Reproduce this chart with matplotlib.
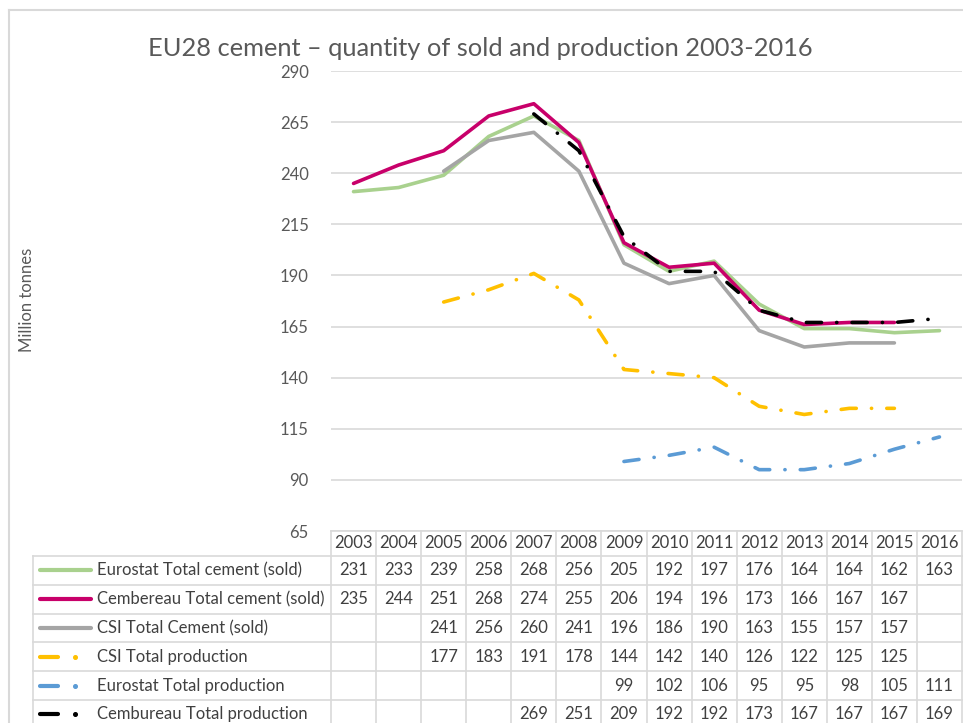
import numpy as np
import matplotlib.pyplot as plt
from matplotlib.lines import Line2D

nan = np.nan

# years and series (million tonnes)
years = [2003, 2004, 2005, 2006, 2007, 2008, 2009, 2010, 2011, 2012, 2013, 2014, 2015, 2016]
eurostat_sold = [231, 233, 239, 258, 268, 256, 205, 192, 197, 176, 164, 164, 162, 163]
cembureau_sold = [235, 244, 251, 268, 274, 255, 206, 194, 196, 173, 166, 167, 167, nan]
csi_sold = [nan, nan, 241, 256, 260, 241, 196, 186, 190, 163, 155, 157, 157, nan]
csi_prod = [nan, nan, 177, 183, 191, 178, 144, 142, 140, 126, 122, 125, 125, nan]
eurostat_prod = [nan, nan, nan, nan, nan, nan, 99, 102, 106, 95, 95, 98, 105, 111]
cembureau_prod = [nan, nan, nan, nan, 269, 251, 209, 192, 192, 173, 167, 167, 167, 169]

series_names = ['Eurostat Total cement (sold)', 'Cembereau Total cement (sold)',
                'CSI Total Cement (sold)', 'CSI Total production',
                'Eurostat Total production', 'Cembureau Total production']
series_vals = [eurostat_sold, cembureau_sold, csi_sold, csi_prod, eurostat_prod, cembureau_prod]
colors = ['#A9D18E', '#C8006A', '#A5A5A5', '#FFC000', '#5B9BD5', '#000000']
dashed = [False, False, False, True, True, True]

yticks = list(range(65, 291, 25))

plt.rcParams['font.family'] = ['Lato', 'DejaVu Sans']
W, H = 963, 723
fig = plt.figure(figsize=(W / 100, H / 100), dpi=100)

# pixel helpers
def fx(px):
    return px / W

def fy(py):
    return 1 - py / H

left, right, top, bottom = 331, 962, 71, 531
ax = fig.add_axes([fx(left), fy(bottom), fx(right) - fx(left), fy(top) - fy(bottom)])

dash_style = (0, (4.2, 4.2, 0.05, 4.2))
x = np.arange(len(years))
for vals, c, d in zip(series_vals, colors, dashed):
    y = np.array(vals, dtype=float)
    if d:
        ax.plot(x, y, color=c, lw=2.6, linestyle=dash_style, dash_capstyle='round',
                solid_capstyle='round')
    else:
        ax.plot(x, y, color=c, lw=2.6, solid_capstyle='round', solid_joinstyle='round')

ax.set_xlim(-0.5, len(years) - 0.5)
ax.set_ylim(65, 290)
ax.set_yticks(yticks)
ax.set_xticks([])
ax.grid(axis='y', color='#D9D9D9', lw=1.2)
ax.set_axisbelow(True)
for s in ax.spines.values():
    s.set_visible(False)
ax.tick_params(axis='y', length=0, pad=16, labelsize=12, labelcolor='#595959')

# title and axis label
fig.text(fx(480), fy(48), 'EU28 cement \u2013 quantity of sold and production 2003-2016',
         ha='center', va='center', fontsize=18.3, color='#595959')
fig.text(fx(27), fy(300), 'Million tonnes', rotation=90, ha='center', va='center',
         fontsize=12, color='#595959')

# outer chart border
fig.add_artist(Line2D([fx(9), fx(9)], [fy(10), 0], color='#D9D9D9', lw=1.5))
fig.add_artist(Line2D([fx(9), 1], [fy(10), fy(10)], color='#D9D9D9', lw=1.5))

# data table below the plot
grid_c = '#D9D9D9'
txt_c = '#404040'
col_w = (right - left) / len(years)
header_top, header_bot = 531, 556
row_h = 28.8
table_left = 33

def hline(x0, x1, py):
    fig.add_artist(Line2D([fx(x0), fx(x1)], [fy(py), fy(py)], color=grid_c, lw=1.2))

def vline(px, y0, y1):
    fig.add_artist(Line2D([fx(px), fx(px)], [fy(y0), fy(y1)], color=grid_c, lw=1.2))

hline(left, right, header_top)
for i, yr in enumerate(years):
    cx = left + (i + 0.5) * col_w
    fig.text(fx(cx), fy((header_top + header_bot) / 2), str(yr), ha='center', va='center',
             fontsize=12, color=txt_c)

n_rows = len(series_names)
for r in range(n_rows + 1):
    py = header_bot + r * row_h
    hline(table_left, right, py)
for i in range(len(years) + 1):
    vline(left + i * col_w, header_top, H)
vline(table_left, header_bot, H)

for r, (name, vals, c, d) in enumerate(zip(series_names, series_vals, colors, dashed)):
    cy = header_bot + (r + 0.5) * row_h
    if d:
        fig.add_artist(Line2D([fx(40), fx(58)], [fy(cy), fy(cy)], color=c, lw=3,
                              solid_capstyle='round'))
        fig.add_artist(Line2D([fx(75)], [fy(cy)], color=c, marker='o', ms=2.6, lw=0))
    else:
        fig.add_artist(Line2D([fx(40), fx(91)], [fy(cy), fy(cy)], color=c, lw=3,
                              solid_capstyle='round'))
    fig.text(fx(97), fy(cy), name, ha='left', va='center', fontsize=12, color=txt_c)
    for i, v in enumerate(vals):
        if not np.isnan(v):
            cx = left + (i + 0.5) * col_w
            fig.text(fx(cx), fy(cy), '%d' % v, ha='center', va='center',
                     fontsize=12, color=txt_c)

fig.savefig('out.png', dpi=100)
